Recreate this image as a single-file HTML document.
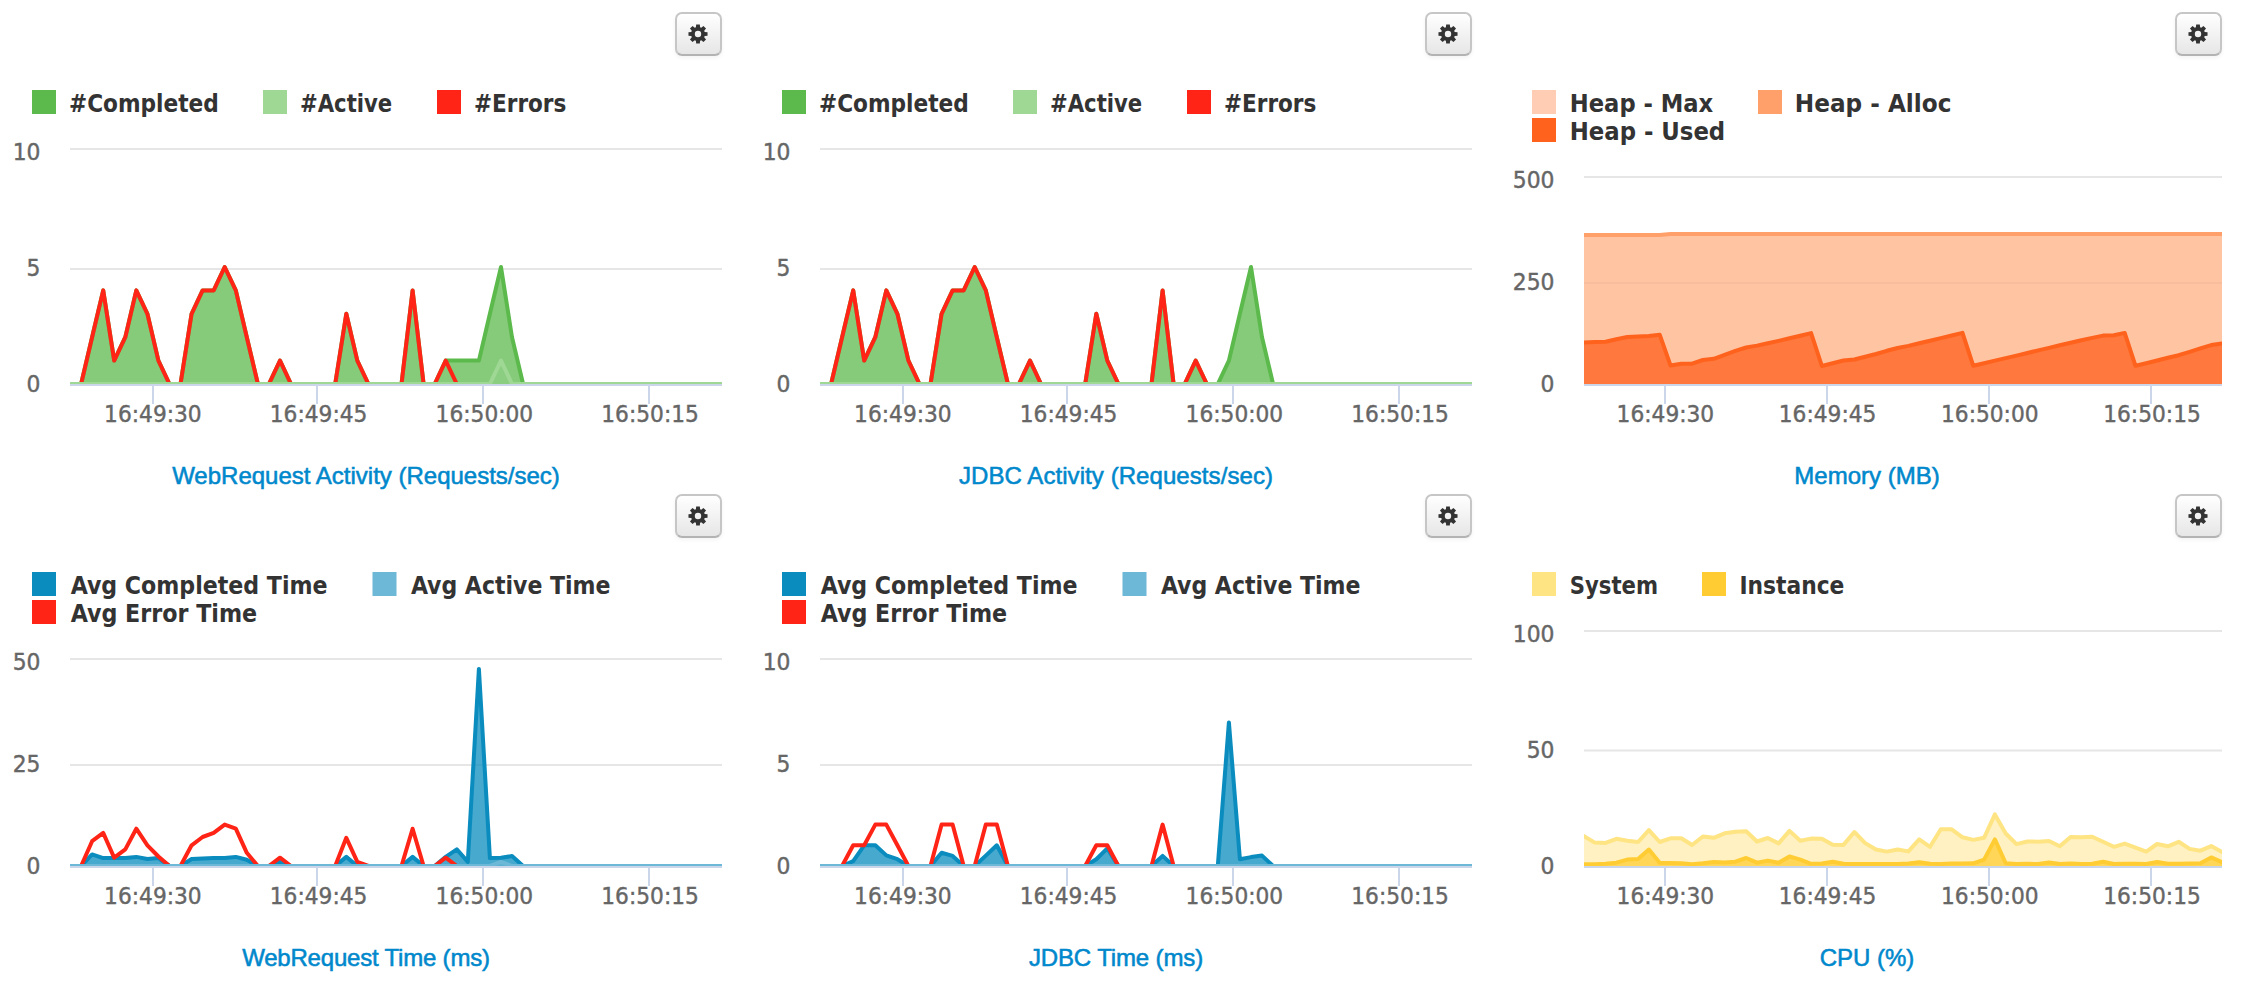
<!DOCTYPE html>
<html lang="en"><head><meta charset="utf-8"><title>Monitoring Dashboard</title>
<style>
html,body{margin:0;padding:0;background:#fff;}
body{width:2260px;height:982px;position:relative;overflow:hidden;font-family:"Liberation Sans",Arial,sans-serif;}
.panel{position:absolute;}
.chart{position:absolute;left:0;top:0;display:block;}
.btn{position:absolute;left:675px;top:12px;width:43px;height:40px;border:2px solid #c6c6c6;border-bottom-color:#b3b3b3;border-radius:7px;
 background:linear-gradient(to bottom,#ffffff,#e6e6e6);box-shadow:inset 0 2px 0 rgba(255,255,255,.2),0 2px 4px rgba(0,0,0,.05);box-sizing:content-box;display:block;}
.btn svg{position:absolute;left:10.8px;top:10.4px;}
.title{position:absolute;top:456px;width:600px;text-align:center;font-size:24px;line-height:40px;white-space:nowrap;}
.title a{color:#0088cc;text-decoration:none;-webkit-text-stroke:0.55px #0088cc;}
</style></head>
<body>
<div class="panel" style="left:0px;top:0px;width:750px;height:482px">
<a class="btn" title="Settings"><svg width="20" height="20" viewBox="0 0 20 20"><path fill="#333" fill-rule="evenodd" d="M7.89 3.33 L8.18 0.47 L11.82 0.47 L12.11 3.33 L13.23 3.79 L15.45 1.98 L18.02 4.55 L16.21 6.77 L16.67 7.89 L19.53 8.18 L19.53 11.82 L16.67 12.11 L16.21 13.23 L18.02 15.45 L15.45 18.02 L13.23 16.21 L12.11 16.67 L11.82 19.53 L8.18 19.53 L7.89 16.67 L6.77 16.21 L4.55 18.02 L1.98 15.45 L3.79 13.23 L3.33 12.11 L0.47 11.82 L0.47 8.18 L3.33 7.89 L3.79 6.77 L1.98 4.55 L4.55 1.98 L6.77 3.79 Z M6.80 10.00 a3.20 3.20 0 1 0 6.40 0 a3.20 3.20 0 1 0 -6.40 0 Z"/></svg></a>
<svg class="chart" width="750" height="482" viewBox="0 0 750 482">
<defs><clipPath id="clipa"><rect x="70" y="0" width="652" height="384"/></clipPath></defs>
<g class="grid" stroke="#e6e6e6" stroke-width="2">
<path d="M70 149 H722"/>
<path d="M70 269 H722"/>
</g>
<g class="xaxis" stroke="#ccd6eb" stroke-width="2">
<path d="M70 385 H722"/>
<path d="M153 386 V404"/>
<path d="M317 386 V404"/>
<path d="M483 386 V404"/>
<path d="M649 386 V404"/>
</g>
<g class="series" clip-path="url(#clipa)" fill="none" stroke-width="4" stroke-linejoin="round" stroke-linecap="round">
<path d="M70 384 L81.1 384 L92.1 337.2 L103.2 290.4 L114.2 360.6 L125.3 337.2 L136.3 290.4 L147.4 313.8 L158.4 360.6 L169.5 384 L180.5 384 L191.6 313.8 L202.6 290.4 L213.7 290.4 L224.7 267 L235.8 290.4 L246.8 337.2 L257.9 384 L268.9 384 L280 360.6 L291 384 L302.1 384 L313.1 384 L324.2 384 L335.2 384 L346.3 313.8 L357.3 360.6 L368.4 384 L379.4 384 L390.5 384 L401.5 384 L412.6 290.4 L423.6 384 L434.7 384 L445.7 360.6 L456.8 360.6 L467.8 360.6 L478.9 360.6 L489.9 313.8 L501 267 L512 337.2 L523.1 384 L534.1 384 L545.2 384 L556.2 384 L567.3 384 L578.3 384 L589.4 384 L600.4 384 L611.5 384 L622.5 384 L633.6 384 L644.6 384 L655.7 384 L666.7 384 L677.8 384 L688.8 384 L699.9 384 L710.9 384 L722 384 L722 384 L70 384 Z" fill="#5cb94c" fill-opacity="0.75" stroke="none"/>
<path d="M70 384 L81.1 384 L92.1 337.2 L103.2 290.4 L114.2 360.6 L125.3 337.2 L136.3 290.4 L147.4 313.8 L158.4 360.6 L169.5 384 L180.5 384 L191.6 313.8 L202.6 290.4 L213.7 290.4 L224.7 267 L235.8 290.4 L246.8 337.2 L257.9 384 L268.9 384 L280 360.6 L291 384 L302.1 384 L313.1 384 L324.2 384 L335.2 384 L346.3 313.8 L357.3 360.6 L368.4 384 L379.4 384 L390.5 384 L401.5 384 L412.6 290.4 L423.6 384 L434.7 384 L445.7 360.6 L456.8 360.6 L467.8 360.6 L478.9 360.6 L489.9 313.8 L501 267 L512 337.2 L523.1 384 L534.1 384 L545.2 384 L556.2 384 L567.3 384 L578.3 384 L589.4 384 L600.4 384 L611.5 384 L622.5 384 L633.6 384 L644.6 384 L655.7 384 L666.7 384 L677.8 384 L688.8 384 L699.9 384 L710.9 384 L722 384" stroke="#5cb94c"/>
<path d="M70 384 L81.1 384 L92.1 337.2 L103.2 290.4 L114.2 360.6 L125.3 337.2 L136.3 290.4 L147.4 313.8 L158.4 360.6 L169.5 384 L180.5 384 L191.6 313.8 L202.6 290.4 L213.7 290.4 L224.7 267 L235.8 290.4 L246.8 337.2 L257.9 384 L268.9 384 L280 360.6 L291 384 L302.1 384 L313.1 384 L324.2 384 L335.2 384 L346.3 313.8 L357.3 360.6 L368.4 384 L379.4 384 L390.5 384 L401.5 384 L412.6 290.4 L423.6 384 L434.7 384 L445.7 360.6 L456.8 384" stroke="#ff2416"/>
<path d="M70 384 L81.1 384 L92.1 384 L103.2 384 L114.2 384 L125.3 384 L136.3 384 L147.4 384 L158.4 384 L169.5 384 L180.5 384 L191.6 384 L202.6 384 L213.7 384 L224.7 384 L235.8 384 L246.8 384 L257.9 384 L268.9 384 L280 384 L291 384 L302.1 384 L313.1 384 L324.2 384 L335.2 384 L346.3 384 L357.3 384 L368.4 384 L379.4 384 L390.5 384 L401.5 384 L412.6 384 L423.6 384 L434.7 384 L445.7 384 L456.8 384 L467.8 384 L478.9 384 L489.9 384 L501 360.6 L512 384 L523.1 384 L534.1 384 L545.2 384 L556.2 384 L567.3 384 L578.3 384 L589.4 384 L600.4 384 L611.5 384 L622.5 384 L633.6 384 L644.6 384 L655.7 384 L666.7 384 L677.8 384 L688.8 384 L699.9 384 L710.9 384 L722 384 L722 384 L70 384 Z" fill="#9fd795" fill-opacity="0.3" stroke="none"/>
<path d="M70 384 L81.1 384 L92.1 384 L103.2 384 L114.2 384 L125.3 384 L136.3 384 L147.4 384 L158.4 384 L169.5 384 L180.5 384 L191.6 384 L202.6 384 L213.7 384 L224.7 384 L235.8 384 L246.8 384 L257.9 384 L268.9 384 L280 384 L291 384 L302.1 384 L313.1 384 L324.2 384 L335.2 384 L346.3 384 L357.3 384 L368.4 384 L379.4 384 L390.5 384 L401.5 384 L412.6 384 L423.6 384 L434.7 384 L445.7 384 L456.8 384 L467.8 384 L478.9 384 L489.9 384 L501 360.6 L512 384 L523.1 384 L534.1 384 L545.2 384 L556.2 384 L567.3 384 L578.3 384 L589.4 384 L600.4 384 L611.5 384 L622.5 384 L633.6 384 L644.6 384 L655.7 384 L666.7 384 L677.8 384 L688.8 384 L699.9 384 L710.9 384 L722 384" stroke="#9fd795"/>
</g>
<g class="xlabels" font-family='"DejaVu Sans Condensed", "DejaVu Sans", "Liberation Sans", sans-serif' font-size="23.7" fill="#666666" stroke="#666666" stroke-width="0.4" text-anchor="middle">
<text x="152.9" y="422" textLength="97.6" lengthAdjust="spacingAndGlyphs">16:49:30</text>
<text x="318.6" y="422" textLength="97.6" lengthAdjust="spacingAndGlyphs">16:49:45</text>
<text x="484.4" y="422" textLength="97.6" lengthAdjust="spacingAndGlyphs">16:50:00</text>
<text x="650.1" y="422" textLength="97.6" lengthAdjust="spacingAndGlyphs">16:50:15</text>
</g>
<g class="ylabels" font-family='"DejaVu Sans Condensed", "DejaVu Sans", "Liberation Sans", sans-serif' font-size="23.7" fill="#666666" stroke="#666666" stroke-width="0.4" text-anchor="end">
<text x="40.5" y="160" textLength="27.8" lengthAdjust="spacingAndGlyphs">10</text>
<text x="40.5" y="276" textLength="13.9" lengthAdjust="spacingAndGlyphs">5</text>
<text x="40.5" y="392" textLength="13.9" lengthAdjust="spacingAndGlyphs">0</text>
</g>
<g class="legend" font-family='"DejaVu Sans Condensed", "DejaVu Sans", "Liberation Sans", sans-serif' font-size="24" font-weight="bold" fill="#333333">
<rect x="32" y="90" width="24" height="24" fill="#5cb94c"/>
<text x="69" y="111.6" textLength="149.8" lengthAdjust="spacingAndGlyphs">#Completed</text>
<rect x="263" y="90" width="24" height="24" fill="#9fd795"/>
<text x="300" y="111.6" textLength="92.2" lengthAdjust="spacingAndGlyphs">#Active</text>
<rect x="437" y="90" width="24" height="24" fill="#ff2416"/>
<text x="474" y="111.6" textLength="92.3" lengthAdjust="spacingAndGlyphs">#Errors</text>
</g>
</svg>
<div class="title" style="left:66px"><a>WebRequest Activity (Requests/sec)</a></div>
</div>

<div class="panel" style="left:750px;top:0px;width:750px;height:482px">
<a class="btn" title="Settings"><svg width="20" height="20" viewBox="0 0 20 20"><path fill="#333" fill-rule="evenodd" d="M7.89 3.33 L8.18 0.47 L11.82 0.47 L12.11 3.33 L13.23 3.79 L15.45 1.98 L18.02 4.55 L16.21 6.77 L16.67 7.89 L19.53 8.18 L19.53 11.82 L16.67 12.11 L16.21 13.23 L18.02 15.45 L15.45 18.02 L13.23 16.21 L12.11 16.67 L11.82 19.53 L8.18 19.53 L7.89 16.67 L6.77 16.21 L4.55 18.02 L1.98 15.45 L3.79 13.23 L3.33 12.11 L0.47 11.82 L0.47 8.18 L3.33 7.89 L3.79 6.77 L1.98 4.55 L4.55 1.98 L6.77 3.79 Z M6.80 10.00 a3.20 3.20 0 1 0 6.40 0 a3.20 3.20 0 1 0 -6.40 0 Z"/></svg></a>
<svg class="chart" width="750" height="482" viewBox="0 0 750 482">
<defs><clipPath id="clipb"><rect x="70" y="0" width="652" height="384"/></clipPath></defs>
<g class="grid" stroke="#e6e6e6" stroke-width="2">
<path d="M70 149 H722"/>
<path d="M70 269 H722"/>
</g>
<g class="xaxis" stroke="#ccd6eb" stroke-width="2">
<path d="M70 385 H722"/>
<path d="M153 386 V404"/>
<path d="M317 386 V404"/>
<path d="M483 386 V404"/>
<path d="M649 386 V404"/>
</g>
<g class="series" clip-path="url(#clipb)" fill="none" stroke-width="4" stroke-linejoin="round" stroke-linecap="round">
<path d="M70 384 L81.1 384 L92.1 337.2 L103.2 290.4 L114.2 360.6 L125.3 337.2 L136.3 290.4 L147.4 313.8 L158.4 360.6 L169.5 384 L180.5 384 L191.6 313.8 L202.6 290.4 L213.7 290.4 L224.7 267 L235.8 290.4 L246.8 337.2 L257.9 384 L268.9 384 L280 360.6 L291 384 L302.1 384 L313.1 384 L324.2 384 L335.2 384 L346.3 313.8 L357.3 360.6 L368.4 384 L379.4 384 L390.5 384 L401.5 384 L412.6 290.4 L423.6 384 L434.7 384 L445.7 360.6 L456.8 384 L467.8 384 L478.9 360.6 L489.9 313.8 L501 267 L512 337.2 L523.1 384 L534.1 384 L545.2 384 L556.2 384 L567.3 384 L578.3 384 L589.4 384 L600.4 384 L611.5 384 L622.5 384 L633.6 384 L644.6 384 L655.7 384 L666.7 384 L677.8 384 L688.8 384 L699.9 384 L710.9 384 L722 384 L722 384 L70 384 Z" fill="#5cb94c" fill-opacity="0.75" stroke="none"/>
<path d="M70 384 L81.1 384 L92.1 337.2 L103.2 290.4 L114.2 360.6 L125.3 337.2 L136.3 290.4 L147.4 313.8 L158.4 360.6 L169.5 384 L180.5 384 L191.6 313.8 L202.6 290.4 L213.7 290.4 L224.7 267 L235.8 290.4 L246.8 337.2 L257.9 384 L268.9 384 L280 360.6 L291 384 L302.1 384 L313.1 384 L324.2 384 L335.2 384 L346.3 313.8 L357.3 360.6 L368.4 384 L379.4 384 L390.5 384 L401.5 384 L412.6 290.4 L423.6 384 L434.7 384 L445.7 360.6 L456.8 384 L467.8 384 L478.9 360.6 L489.9 313.8 L501 267 L512 337.2 L523.1 384 L534.1 384 L545.2 384 L556.2 384 L567.3 384 L578.3 384 L589.4 384 L600.4 384 L611.5 384 L622.5 384 L633.6 384 L644.6 384 L655.7 384 L666.7 384 L677.8 384 L688.8 384 L699.9 384 L710.9 384 L722 384" stroke="#5cb94c"/>
<path d="M70 384 L81.1 384 L92.1 337.2 L103.2 290.4 L114.2 360.6 L125.3 337.2 L136.3 290.4 L147.4 313.8 L158.4 360.6 L169.5 384 L180.5 384 L191.6 313.8 L202.6 290.4 L213.7 290.4 L224.7 267 L235.8 290.4 L246.8 337.2 L257.9 384 L268.9 384 L280 360.6 L291 384 L302.1 384 L313.1 384 L324.2 384 L335.2 384 L346.3 313.8 L357.3 360.6 L368.4 384 L379.4 384 L390.5 384 L401.5 384 L412.6 290.4 L423.6 384 L434.7 384 L445.7 360.6 L456.8 384" stroke="#ff2416"/>

<path d="M70 384 L81.1 384 L92.1 384 L103.2 384 L114.2 384 L125.3 384 L136.3 384 L147.4 384 L158.4 384 L169.5 384 L180.5 384 L191.6 384 L202.6 384 L213.7 384 L224.7 384 L235.8 384 L246.8 384 L257.9 384 L268.9 384 L280 384 L291 384 L302.1 384 L313.1 384 L324.2 384 L335.2 384 L346.3 384 L357.3 384 L368.4 384 L379.4 384 L390.5 384 L401.5 384 L412.6 384 L423.6 384 L434.7 384 L445.7 384 L456.8 384 L467.8 384 L478.9 384 L489.9 384 L501 384 L512 384 L523.1 384 L534.1 384 L545.2 384 L556.2 384 L567.3 384 L578.3 384 L589.4 384 L600.4 384 L611.5 384 L622.5 384 L633.6 384 L644.6 384 L655.7 384 L666.7 384 L677.8 384 L688.8 384 L699.9 384 L710.9 384 L722 384" stroke="#9fd795"/>
</g>
<g class="xlabels" font-family='"DejaVu Sans Condensed", "DejaVu Sans", "Liberation Sans", sans-serif' font-size="23.7" fill="#666666" stroke="#666666" stroke-width="0.4" text-anchor="middle">
<text x="152.9" y="422" textLength="97.6" lengthAdjust="spacingAndGlyphs">16:49:30</text>
<text x="318.6" y="422" textLength="97.6" lengthAdjust="spacingAndGlyphs">16:49:45</text>
<text x="484.4" y="422" textLength="97.6" lengthAdjust="spacingAndGlyphs">16:50:00</text>
<text x="650.1" y="422" textLength="97.6" lengthAdjust="spacingAndGlyphs">16:50:15</text>
</g>
<g class="ylabels" font-family='"DejaVu Sans Condensed", "DejaVu Sans", "Liberation Sans", sans-serif' font-size="23.7" fill="#666666" stroke="#666666" stroke-width="0.4" text-anchor="end">
<text x="40.5" y="160" textLength="27.8" lengthAdjust="spacingAndGlyphs">10</text>
<text x="40.5" y="276" textLength="13.9" lengthAdjust="spacingAndGlyphs">5</text>
<text x="40.5" y="392" textLength="13.9" lengthAdjust="spacingAndGlyphs">0</text>
</g>
<g class="legend" font-family='"DejaVu Sans Condensed", "DejaVu Sans", "Liberation Sans", sans-serif' font-size="24" font-weight="bold" fill="#333333">
<rect x="32" y="90" width="24" height="24" fill="#5cb94c"/>
<text x="69" y="111.6" textLength="149.8" lengthAdjust="spacingAndGlyphs">#Completed</text>
<rect x="263" y="90" width="24" height="24" fill="#9fd795"/>
<text x="300" y="111.6" textLength="92.2" lengthAdjust="spacingAndGlyphs">#Active</text>
<rect x="437" y="90" width="24" height="24" fill="#ff2416"/>
<text x="474" y="111.6" textLength="92.3" lengthAdjust="spacingAndGlyphs">#Errors</text>
</g>
</svg>
<div class="title" style="left:66px"><a style="letter-spacing:0.07px">JDBC Activity (Requests/sec)</a></div>
</div>

<div class="panel" style="left:1500px;top:0px;width:760px;height:482px">
<a class="btn" title="Settings"><svg width="20" height="20" viewBox="0 0 20 20"><path fill="#333" fill-rule="evenodd" d="M7.89 3.33 L8.18 0.47 L11.82 0.47 L12.11 3.33 L13.23 3.79 L15.45 1.98 L18.02 4.55 L16.21 6.77 L16.67 7.89 L19.53 8.18 L19.53 11.82 L16.67 12.11 L16.21 13.23 L18.02 15.45 L15.45 18.02 L13.23 16.21 L12.11 16.67 L11.82 19.53 L8.18 19.53 L7.89 16.67 L6.77 16.21 L4.55 18.02 L1.98 15.45 L3.79 13.23 L3.33 12.11 L0.47 11.82 L0.47 8.18 L3.33 7.89 L3.79 6.77 L1.98 4.55 L4.55 1.98 L6.77 3.79 Z M6.80 10.00 a3.20 3.20 0 1 0 6.40 0 a3.20 3.20 0 1 0 -6.40 0 Z"/></svg></a>
<svg class="chart" width="760" height="482" viewBox="0 0 760 482">
<defs><clipPath id="clipc"><rect x="84" y="0" width="638" height="384"/></clipPath></defs>
<g class="grid" stroke="#e6e6e6" stroke-width="2">
<path d="M84 177 H722"/>
<path d="M84 283 H722"/>
</g>
<g class="xaxis" stroke="#ccd6eb" stroke-width="2">
<path d="M84 385 H722"/>
<path d="M165 386 V404"/>
<path d="M327 386 V404"/>
<path d="M489 386 V404"/>
<path d="M651 386 V404"/>
</g>
<g class="series" clip-path="url(#clipc)" fill="none" stroke-width="4" stroke-linejoin="round" stroke-linecap="round">
<path d="M84 235 L94.8 235 L105.6 235 L116.4 235 L127.3 235 L138.1 235 L148.9 235 L159.7 235 L170.5 234 L181.3 234 L192.1 234 L202.9 234 L213.8 234 L224.6 234 L235.4 234 L246.2 234 L257 234 L267.8 234 L278.6 234 L289.5 234 L300.3 234 L311.1 234 L321.9 234 L332.7 234 L343.5 234 L354.3 234 L365.2 234 L376 234 L386.8 234 L397.6 234 L408.4 234 L419.2 234 L430 234 L440.8 234 L451.7 234 L462.5 234 L473.3 234 L484.1 234 L494.9 234 L505.7 234 L516.5 234 L527.4 234 L538.2 234 L549 234 L559.8 234 L570.6 234 L581.4 234 L592.2 234 L603.1 234 L613.9 234 L624.7 234 L635.5 234 L646.3 234 L657.1 234 L667.9 234 L678.7 234 L689.6 234 L700.4 234 L711.2 234 L722 234 L722 384 L84 384 Z" fill="#ffc4a2" stroke="none"/>
<path d="M84 283 H722" stroke="#f8bd9c" stroke-width="2" stroke-linecap="butt"/>
<path d="M84 235 L94.8 235 L105.6 235 L116.4 235 L127.3 235 L138.1 235 L148.9 235 L159.7 235 L170.5 234 L181.3 234 L192.1 234 L202.9 234 L213.8 234 L224.6 234 L235.4 234 L246.2 234 L257 234 L267.8 234 L278.6 234 L289.5 234 L300.3 234 L311.1 234 L321.9 234 L332.7 234 L343.5 234 L354.3 234 L365.2 234 L376 234 L386.8 234 L397.6 234 L408.4 234 L419.2 234 L430 234 L440.8 234 L451.7 234 L462.5 234 L473.3 234 L484.1 234 L494.9 234 L505.7 234 L516.5 234 L527.4 234 L538.2 234 L549 234 L559.8 234 L570.6 234 L581.4 234 L592.2 234 L603.1 234 L613.9 234 L624.7 234 L635.5 234 L646.3 234 L657.1 234 L667.9 234 L678.7 234 L689.6 234 L700.4 234 L711.2 234 L722 234" stroke="#ffa06a"/>
<path d="M84 342.5 L94.8 342 L105.6 341.7 L116.4 339.3 L127.3 337 L138.1 336.6 L148.9 336 L159.7 334.7 L170.5 365.5 L181.3 363.7 L192.1 363.7 L202.9 360 L213.8 358.8 L224.6 354.8 L235.4 350.8 L246.2 347.5 L257 345.6 L267.8 343.3 L278.6 340.9 L289.5 338.3 L300.3 335.7 L311.1 333.1 L321.9 366 L332.7 363.2 L343.5 360.5 L354.3 359.5 L365.2 356.8 L376 354 L386.8 350.8 L397.6 348 L408.4 345.9 L419.2 343.3 L430 340.7 L440.8 338.1 L451.7 335.5 L462.5 332.9 L473.3 365.8 L484.1 363.2 L494.9 360.6 L505.7 358.1 L516.5 355.6 L527.4 353 L538.2 350.4 L549 347.9 L559.8 345.3 L570.6 342.8 L581.4 340.3 L592.2 337.9 L603.1 335.6 L613.9 335.2 L624.7 332.9 L635.5 365.8 L646.3 363.2 L657.1 360.5 L667.9 357.8 L678.7 355.2 L689.6 351.8 L700.4 348.4 L711.2 345.1 L722 343.5 L722 384 L84 384 Z" fill="#ff783d" stroke="none"/>
<path d="M84 342.5 L94.8 342 L105.6 341.7 L116.4 339.3 L127.3 337 L138.1 336.6 L148.9 336 L159.7 334.7 L170.5 365.5 L181.3 363.7 L192.1 363.7 L202.9 360 L213.8 358.8 L224.6 354.8 L235.4 350.8 L246.2 347.5 L257 345.6 L267.8 343.3 L278.6 340.9 L289.5 338.3 L300.3 335.7 L311.1 333.1 L321.9 366 L332.7 363.2 L343.5 360.5 L354.3 359.5 L365.2 356.8 L376 354 L386.8 350.8 L397.6 348 L408.4 345.9 L419.2 343.3 L430 340.7 L440.8 338.1 L451.7 335.5 L462.5 332.9 L473.3 365.8 L484.1 363.2 L494.9 360.6 L505.7 358.1 L516.5 355.6 L527.4 353 L538.2 350.4 L549 347.9 L559.8 345.3 L570.6 342.8 L581.4 340.3 L592.2 337.9 L603.1 335.6 L613.9 335.2 L624.7 332.9 L635.5 365.8 L646.3 363.2 L657.1 360.5 L667.9 357.8 L678.7 355.2 L689.6 351.8 L700.4 348.4 L711.2 345.1 L722 343.5" stroke="#ff621d"/>
</g>
<g class="xlabels" font-family='"DejaVu Sans Condensed", "DejaVu Sans", "Liberation Sans", sans-serif' font-size="23.7" fill="#666666" stroke="#666666" stroke-width="0.4" text-anchor="middle">
<text x="165.4" y="422" textLength="97.6" lengthAdjust="spacingAndGlyphs">16:49:30</text>
<text x="327.6" y="422" textLength="97.6" lengthAdjust="spacingAndGlyphs">16:49:45</text>
<text x="489.8" y="422" textLength="97.6" lengthAdjust="spacingAndGlyphs">16:50:00</text>
<text x="652" y="422" textLength="97.6" lengthAdjust="spacingAndGlyphs">16:50:15</text>
</g>
<g class="ylabels" font-family='"DejaVu Sans Condensed", "DejaVu Sans", "Liberation Sans", sans-serif' font-size="23.7" fill="#666666" stroke="#666666" stroke-width="0.4" text-anchor="end">
<text x="54.5" y="188" textLength="41.7" lengthAdjust="spacingAndGlyphs">500</text>
<text x="54.5" y="290" textLength="41.7" lengthAdjust="spacingAndGlyphs">250</text>
<text x="54.5" y="392" textLength="13.9" lengthAdjust="spacingAndGlyphs">0</text>
</g>
<g class="legend" font-family='"DejaVu Sans Condensed", "DejaVu Sans", "Liberation Sans", sans-serif' font-size="24" font-weight="bold" fill="#333333">
<rect x="32" y="90" width="24" height="24" fill="#ffcdb3"/>
<text x="69.8" y="111.6" textLength="143.4" lengthAdjust="spacingAndGlyphs">Heap - Max</text>
<rect x="258" y="90" width="24" height="24" fill="#ffa06a"/>
<text x="294.8" y="111.6" textLength="156.6" lengthAdjust="spacingAndGlyphs">Heap - Alloc</text>
<rect x="32" y="118" width="24" height="24" fill="#ff621d"/>
<text x="69.8" y="139.6" textLength="155.4" lengthAdjust="spacingAndGlyphs">Heap - Used</text>
</g>
</svg>
<div class="title" style="left:67px"><a>Memory (MB)</a></div>
</div>

<div class="panel" style="left:0px;top:482px;width:750px;height:500px">
<a class="btn" title="Settings"><svg width="20" height="20" viewBox="0 0 20 20"><path fill="#333" fill-rule="evenodd" d="M7.89 3.33 L8.18 0.47 L11.82 0.47 L12.11 3.33 L13.23 3.79 L15.45 1.98 L18.02 4.55 L16.21 6.77 L16.67 7.89 L19.53 8.18 L19.53 11.82 L16.67 12.11 L16.21 13.23 L18.02 15.45 L15.45 18.02 L13.23 16.21 L12.11 16.67 L11.82 19.53 L8.18 19.53 L7.89 16.67 L6.77 16.21 L4.55 18.02 L1.98 15.45 L3.79 13.23 L3.33 12.11 L0.47 11.82 L0.47 8.18 L3.33 7.89 L3.79 6.77 L1.98 4.55 L4.55 1.98 L6.77 3.79 Z M6.80 10.00 a3.20 3.20 0 1 0 6.40 0 a3.20 3.20 0 1 0 -6.40 0 Z"/></svg></a>
<svg class="chart" width="750" height="500" viewBox="0 0 750 500">
<defs><clipPath id="clipd"><rect x="70" y="0" width="652" height="384"/></clipPath></defs>
<g class="grid" stroke="#e6e6e6" stroke-width="2">
<path d="M70 177 H722"/>
<path d="M70 283 H722"/>
</g>
<g class="xaxis" stroke="#ccd6eb" stroke-width="2">
<path d="M70 385 H722"/>
<path d="M153 386 V404"/>
<path d="M317 386 V404"/>
<path d="M483 386 V404"/>
<path d="M649 386 V404"/>
</g>
<g class="series" clip-path="url(#clipd)" fill="none" stroke-width="4" stroke-linejoin="round" stroke-linecap="round">
<path d="M70 384 L81.1 384 L92.1 372.4 L103.2 376.1 L114.2 376.1 L125.3 376.1 L136.3 374.9 L147.4 377 L158.4 376.1 L169.5 384 L180.5 384 L191.6 377 L202.6 376.5 L213.7 376.1 L224.7 376.1 L235.8 374.9 L246.8 377.8 L257.9 384 L268.9 384 L280 379.9 L291 384 L302.1 384 L313.1 384 L324.2 384 L335.2 384 L346.3 374.9 L357.3 384 L368.4 384 L379.4 384 L390.5 384 L401.5 384 L412.6 374.9 L423.6 384 L434.7 384 L445.7 374.9 L456.8 367.4 L467.8 379.9 L478.9 186.9 L489.9 376.1 L501 375.7 L512 374.1 L523.1 384 L534.1 384 L545.2 384 L556.2 384 L567.3 384 L578.3 384 L589.4 384 L600.4 384 L611.5 384 L622.5 384 L633.6 384 L644.6 384 L655.7 384 L666.7 384 L677.8 384 L688.8 384 L699.9 384 L710.9 384 L722 384 L722 384 L70 384 Z" fill="#0a8cbe" fill-opacity="0.75" stroke="none"/>
<path d="M70 384 L81.1 384 L92.1 372.4 L103.2 376.1 L114.2 376.1 L125.3 376.1 L136.3 374.9 L147.4 377 L158.4 376.1 L169.5 384 L180.5 384 L191.6 377 L202.6 376.5 L213.7 376.1 L224.7 376.1 L235.8 374.9 L246.8 377.8 L257.9 384 L268.9 384 L280 379.9 L291 384 L302.1 384 L313.1 384 L324.2 384 L335.2 384 L346.3 374.9 L357.3 384 L368.4 384 L379.4 384 L390.5 384 L401.5 384 L412.6 374.9 L423.6 384 L434.7 384 L445.7 374.9 L456.8 367.4 L467.8 379.9 L478.9 186.9 L489.9 376.1 L501 375.7 L512 374.1 L523.1 384 L534.1 384 L545.2 384 L556.2 384 L567.3 384 L578.3 384 L589.4 384 L600.4 384 L611.5 384 L622.5 384 L633.6 384 L644.6 384 L655.7 384 L666.7 384 L677.8 384 L688.8 384 L699.9 384 L710.9 384 L722 384" stroke="#0a8cbe"/>
<path d="M70 384 L81.1 384 L92.1 359.2 L103.2 350.9 L114.2 375.7 L125.3 367.4 L136.3 346.7 L147.4 363.3 L158.4 374.5 L169.5 384 L180.5 384 L191.6 363.3 L202.6 355 L213.7 350.9 L224.7 342.6 L235.8 346.7 L246.8 370.8 L257.9 384 L268.9 384 L280 375.7 L291 384 L302.1 384 L313.1 384 L324.2 384 L335.2 384 L346.3 355.8 L357.3 379.9 L368.4 384 L379.4 384 L390.5 384 L401.5 384 L412.6 346.7 L423.6 384 L434.7 384 L445.7 375.7 L456.8 384" stroke="#ff2416"/>
<path d="M70 384 L81.1 384 L92.1 384 L103.2 384 L114.2 384 L125.3 384 L136.3 384 L147.4 384 L158.4 384 L169.5 384 L180.5 384 L191.6 384 L202.6 384 L213.7 384 L224.7 384 L235.8 384 L246.8 384 L257.9 384 L268.9 384 L280 384 L291 384 L302.1 384 L313.1 384 L324.2 384 L335.2 384 L346.3 384 L357.3 384 L368.4 384 L379.4 384 L390.5 384 L401.5 384 L412.6 384 L423.6 384 L434.7 384 L445.7 384 L456.8 384 L467.8 384 L478.9 384 L489.9 384 L501 379.9 L512 384 L523.1 384 L534.1 384 L545.2 384 L556.2 384 L567.3 384 L578.3 384 L589.4 384 L600.4 384 L611.5 384 L622.5 384 L633.6 384 L644.6 384 L655.7 384 L666.7 384 L677.8 384 L688.8 384 L699.9 384 L710.9 384 L722 384 L722 384 L70 384 Z" fill="#6cb8d6" fill-opacity="0.6" stroke="none"/>
<path d="M70 384 L81.1 384 L92.1 384 L103.2 384 L114.2 384 L125.3 384 L136.3 384 L147.4 384 L158.4 384 L169.5 384 L180.5 384 L191.6 384 L202.6 384 L213.7 384 L224.7 384 L235.8 384 L246.8 384 L257.9 384 L268.9 384 L280 384 L291 384 L302.1 384 L313.1 384 L324.2 384 L335.2 384 L346.3 384 L357.3 384 L368.4 384 L379.4 384 L390.5 384 L401.5 384 L412.6 384 L423.6 384 L434.7 384 L445.7 384 L456.8 384 L467.8 384 L478.9 384 L489.9 384 L501 379.9 L512 384 L523.1 384 L534.1 384 L545.2 384 L556.2 384 L567.3 384 L578.3 384 L589.4 384 L600.4 384 L611.5 384 L622.5 384 L633.6 384 L644.6 384 L655.7 384 L666.7 384 L677.8 384 L688.8 384 L699.9 384 L710.9 384 L722 384" stroke="#6cb8d6"/>
</g>
<g class="xlabels" font-family='"DejaVu Sans Condensed", "DejaVu Sans", "Liberation Sans", sans-serif' font-size="23.7" fill="#666666" stroke="#666666" stroke-width="0.4" text-anchor="middle">
<text x="152.9" y="422" textLength="97.6" lengthAdjust="spacingAndGlyphs">16:49:30</text>
<text x="318.6" y="422" textLength="97.6" lengthAdjust="spacingAndGlyphs">16:49:45</text>
<text x="484.4" y="422" textLength="97.6" lengthAdjust="spacingAndGlyphs">16:50:00</text>
<text x="650.1" y="422" textLength="97.6" lengthAdjust="spacingAndGlyphs">16:50:15</text>
</g>
<g class="ylabels" font-family='"DejaVu Sans Condensed", "DejaVu Sans", "Liberation Sans", sans-serif' font-size="23.7" fill="#666666" stroke="#666666" stroke-width="0.4" text-anchor="end">
<text x="40.5" y="188" textLength="27.8" lengthAdjust="spacingAndGlyphs">50</text>
<text x="40.5" y="290" textLength="27.8" lengthAdjust="spacingAndGlyphs">25</text>
<text x="40.5" y="392" textLength="13.9" lengthAdjust="spacingAndGlyphs">0</text>
</g>
<g class="legend" font-family='"DejaVu Sans Condensed", "DejaVu Sans", "Liberation Sans", sans-serif' font-size="24" font-weight="bold" fill="#333333">
<rect x="32" y="90" width="24" height="24" fill="#0a8cbe"/>
<text x="70.7" y="111.6" textLength="256.9" lengthAdjust="spacingAndGlyphs">Avg Completed Time</text>
<rect x="372.5" y="90" width="24" height="24" fill="#6cb8d6"/>
<text x="410.9" y="111.6" textLength="199.6" lengthAdjust="spacingAndGlyphs">Avg Active Time</text>
<rect x="32" y="118" width="24" height="24" fill="#ff2416"/>
<text x="70.7" y="139.6" textLength="186.5" lengthAdjust="spacingAndGlyphs">Avg Error Time</text>
</g>
</svg>
<div class="title" style="left:66px"><a style="letter-spacing:-0.2px">WebRequest Time (ms)</a></div>
</div>

<div class="panel" style="left:750px;top:482px;width:750px;height:500px">
<a class="btn" title="Settings"><svg width="20" height="20" viewBox="0 0 20 20"><path fill="#333" fill-rule="evenodd" d="M7.89 3.33 L8.18 0.47 L11.82 0.47 L12.11 3.33 L13.23 3.79 L15.45 1.98 L18.02 4.55 L16.21 6.77 L16.67 7.89 L19.53 8.18 L19.53 11.82 L16.67 12.11 L16.21 13.23 L18.02 15.45 L15.45 18.02 L13.23 16.21 L12.11 16.67 L11.82 19.53 L8.18 19.53 L7.89 16.67 L6.77 16.21 L4.55 18.02 L1.98 15.45 L3.79 13.23 L3.33 12.11 L0.47 11.82 L0.47 8.18 L3.33 7.89 L3.79 6.77 L1.98 4.55 L4.55 1.98 L6.77 3.79 Z M6.80 10.00 a3.20 3.20 0 1 0 6.40 0 a3.20 3.20 0 1 0 -6.40 0 Z"/></svg></a>
<svg class="chart" width="750" height="500" viewBox="0 0 750 500">
<defs><clipPath id="clipe"><rect x="70" y="0" width="652" height="384"/></clipPath></defs>
<g class="grid" stroke="#e6e6e6" stroke-width="2">
<path d="M70 177 H722"/>
<path d="M70 283 H722"/>
</g>
<g class="xaxis" stroke="#ccd6eb" stroke-width="2">
<path d="M70 385 H722"/>
<path d="M153 386 V404"/>
<path d="M317 386 V404"/>
<path d="M483 386 V404"/>
<path d="M649 386 V404"/>
</g>
<g class="series" clip-path="url(#clipe)" fill="none" stroke-width="4" stroke-linejoin="round" stroke-linecap="round">
<path d="M70 384 L81.1 384 L92.1 384 L103.2 379.2 L114.2 363.3 L125.3 363.3 L136.3 373.4 L147.4 377.2 L158.4 384 L169.5 384 L180.5 384 L191.6 370.8 L202.6 373.9 L213.7 384 L224.7 384 L235.8 373.6 L246.8 363.3 L257.9 384 L268.9 384 L280 384 L291 384 L302.1 384 L313.1 384 L324.2 384 L335.2 384 L346.3 377.2 L357.3 366.4 L368.4 384 L379.4 384 L390.5 384 L401.5 384 L412.6 373.9 L423.6 384 L434.7 384 L445.7 384 L456.8 384 L467.8 384 L478.9 240.5 L489.9 377.2 L501 375.1 L512 373.6 L523.1 384 L534.1 384 L545.2 384 L556.2 384 L567.3 384 L578.3 384 L589.4 384 L600.4 384 L611.5 384 L622.5 384 L633.6 384 L644.6 384 L655.7 384 L666.7 384 L677.8 384 L688.8 384 L699.9 384 L710.9 384 L722 384 L722 384 L70 384 Z" fill="#0a8cbe" fill-opacity="0.75" stroke="none"/>
<path d="M70 384 L81.1 384 L92.1 384 L103.2 379.2 L114.2 363.3 L125.3 363.3 L136.3 373.4 L147.4 377.2 L158.4 384 L169.5 384 L180.5 384 L191.6 370.8 L202.6 373.9 L213.7 384 L224.7 384 L235.8 373.6 L246.8 363.3 L257.9 384 L268.9 384 L280 384 L291 384 L302.1 384 L313.1 384 L324.2 384 L335.2 384 L346.3 377.2 L357.3 366.4 L368.4 384 L379.4 384 L390.5 384 L401.5 384 L412.6 373.9 L423.6 384 L434.7 384 L445.7 384 L456.8 384 L467.8 384 L478.9 240.5 L489.9 377.2 L501 375.1 L512 373.6 L523.1 384 L534.1 384 L545.2 384 L556.2 384 L567.3 384 L578.3 384 L589.4 384 L600.4 384 L611.5 384 L622.5 384 L633.6 384 L644.6 384 L655.7 384 L666.7 384 L677.8 384 L688.8 384 L699.9 384 L710.9 384 L722 384" stroke="#0a8cbe"/>
<path d="M70 384 L81.1 384 L92.1 384 L103.2 363.3 L114.2 363.3 L125.3 342.6 L136.3 342.6 L147.4 363.3 L158.4 384 L169.5 384 L180.5 384 L191.6 342.6 L202.6 342.6 L213.7 384 L224.7 384 L235.8 342.6 L246.8 342.6 L257.9 384 L268.9 384 L280 384 L291 384 L302.1 384 L313.1 384 L324.2 384 L335.2 384 L346.3 363.3 L357.3 363.3 L368.4 384 L379.4 384 L390.5 384 L401.5 384 L412.6 342.6 L423.6 384 L434.7 384 L445.7 384 L456.8 384" stroke="#ff2416"/>

<path d="M70 384 L81.1 384 L92.1 384 L103.2 384 L114.2 384 L125.3 384 L136.3 384 L147.4 384 L158.4 384 L169.5 384 L180.5 384 L191.6 384 L202.6 384 L213.7 384 L224.7 384 L235.8 384 L246.8 384 L257.9 384 L268.9 384 L280 384 L291 384 L302.1 384 L313.1 384 L324.2 384 L335.2 384 L346.3 384 L357.3 384 L368.4 384 L379.4 384 L390.5 384 L401.5 384 L412.6 384 L423.6 384 L434.7 384 L445.7 384 L456.8 384 L467.8 384 L478.9 384 L489.9 384 L501 384 L512 384 L523.1 384 L534.1 384 L545.2 384 L556.2 384 L567.3 384 L578.3 384 L589.4 384 L600.4 384 L611.5 384 L622.5 384 L633.6 384 L644.6 384 L655.7 384 L666.7 384 L677.8 384 L688.8 384 L699.9 384 L710.9 384 L722 384" stroke="#6cb8d6"/>
</g>
<g class="xlabels" font-family='"DejaVu Sans Condensed", "DejaVu Sans", "Liberation Sans", sans-serif' font-size="23.7" fill="#666666" stroke="#666666" stroke-width="0.4" text-anchor="middle">
<text x="152.9" y="422" textLength="97.6" lengthAdjust="spacingAndGlyphs">16:49:30</text>
<text x="318.6" y="422" textLength="97.6" lengthAdjust="spacingAndGlyphs">16:49:45</text>
<text x="484.4" y="422" textLength="97.6" lengthAdjust="spacingAndGlyphs">16:50:00</text>
<text x="650.1" y="422" textLength="97.6" lengthAdjust="spacingAndGlyphs">16:50:15</text>
</g>
<g class="ylabels" font-family='"DejaVu Sans Condensed", "DejaVu Sans", "Liberation Sans", sans-serif' font-size="23.7" fill="#666666" stroke="#666666" stroke-width="0.4" text-anchor="end">
<text x="40.5" y="188" textLength="27.8" lengthAdjust="spacingAndGlyphs">10</text>
<text x="40.5" y="290" textLength="13.9" lengthAdjust="spacingAndGlyphs">5</text>
<text x="40.5" y="392" textLength="13.9" lengthAdjust="spacingAndGlyphs">0</text>
</g>
<g class="legend" font-family='"DejaVu Sans Condensed", "DejaVu Sans", "Liberation Sans", sans-serif' font-size="24" font-weight="bold" fill="#333333">
<rect x="32" y="90" width="24" height="24" fill="#0a8cbe"/>
<text x="70.7" y="111.6" textLength="256.9" lengthAdjust="spacingAndGlyphs">Avg Completed Time</text>
<rect x="372.5" y="90" width="24" height="24" fill="#6cb8d6"/>
<text x="410.9" y="111.6" textLength="199.6" lengthAdjust="spacingAndGlyphs">Avg Active Time</text>
<rect x="32" y="118" width="24" height="24" fill="#ff2416"/>
<text x="70.7" y="139.6" textLength="186.5" lengthAdjust="spacingAndGlyphs">Avg Error Time</text>
</g>
</svg>
<div class="title" style="left:66px"><a style="letter-spacing:-0.13px">JDBC Time (ms)</a></div>
</div>

<div class="panel" style="left:1500px;top:482px;width:760px;height:500px">
<a class="btn" title="Settings"><svg width="20" height="20" viewBox="0 0 20 20"><path fill="#333" fill-rule="evenodd" d="M7.89 3.33 L8.18 0.47 L11.82 0.47 L12.11 3.33 L13.23 3.79 L15.45 1.98 L18.02 4.55 L16.21 6.77 L16.67 7.89 L19.53 8.18 L19.53 11.82 L16.67 12.11 L16.21 13.23 L18.02 15.45 L15.45 18.02 L13.23 16.21 L12.11 16.67 L11.82 19.53 L8.18 19.53 L7.89 16.67 L6.77 16.21 L4.55 18.02 L1.98 15.45 L3.79 13.23 L3.33 12.11 L0.47 11.82 L0.47 8.18 L3.33 7.89 L3.79 6.77 L1.98 4.55 L4.55 1.98 L6.77 3.79 Z M6.80 10.00 a3.20 3.20 0 1 0 6.40 0 a3.20 3.20 0 1 0 -6.40 0 Z"/></svg></a>
<svg class="chart" width="760" height="500" viewBox="0 0 760 500">
<defs><clipPath id="clipf"><rect x="84" y="0" width="638" height="384"/></clipPath></defs>
<g class="grid" stroke="#e6e6e6" stroke-width="2">
<path d="M84 149 H722"/>
<path d="M84 268.5 H722"/>
</g>
<g class="xaxis" stroke="#ccd6eb" stroke-width="2">
<path d="M84 385 H722"/>
<path d="M165 386 V404"/>
<path d="M327 386 V404"/>
<path d="M489 386 V404"/>
<path d="M651 386 V404"/>
</g>
<g class="series" clip-path="url(#clipf)" fill="none" stroke-width="4" stroke-linejoin="round" stroke-linecap="round">
<path d="M84 354.2 L94.8 360.6 L105.6 360.9 L116.4 356.8 L127.3 358.8 L138.1 360 L148.9 348.1 L159.7 360 L170.5 356.3 L181.3 356.3 L192.1 363 L202.9 354.5 L213.8 355.8 L224.6 351.3 L235.4 349.7 L246.2 349.2 L257 359.5 L267.8 356 L278.6 361.4 L289.5 348.9 L300.3 358.8 L311.1 356.6 L321.9 356.8 L332.7 362.7 L343.5 362.9 L354.3 350 L365.2 361.1 L376 367.5 L386.8 369.6 L397.6 367.5 L408.4 369.4 L419.2 357.4 L430 364.8 L440.8 347.3 L451.7 347.3 L462.5 355.3 L473.3 357.9 L484.1 355.8 L494.9 332.4 L505.7 351.5 L516.5 362.1 L527.4 359.5 L538.2 359.7 L549 359 L559.8 364.3 L570.6 354.9 L581.4 355.3 L592.2 354.7 L603.1 359.8 L613.9 364.8 L624.7 361.6 L635.5 365.6 L646.3 369.6 L657.1 362 L667.9 364.3 L678.7 359.8 L689.6 366.9 L700.4 368.7 L711.2 364.1 L722 370.1 L722 384 L84 384 Z" fill="#ffe483" fill-opacity="0.5" stroke="none"/>
<path d="M84 354.2 L94.8 360.6 L105.6 360.9 L116.4 356.8 L127.3 358.8 L138.1 360 L148.9 348.1 L159.7 360 L170.5 356.3 L181.3 356.3 L192.1 363 L202.9 354.5 L213.8 355.8 L224.6 351.3 L235.4 349.7 L246.2 349.2 L257 359.5 L267.8 356 L278.6 361.4 L289.5 348.9 L300.3 358.8 L311.1 356.6 L321.9 356.8 L332.7 362.7 L343.5 362.9 L354.3 350 L365.2 361.1 L376 367.5 L386.8 369.6 L397.6 367.5 L408.4 369.4 L419.2 357.4 L430 364.8 L440.8 347.3 L451.7 347.3 L462.5 355.3 L473.3 357.9 L484.1 355.8 L494.9 332.4 L505.7 351.5 L516.5 362.1 L527.4 359.5 L538.2 359.7 L549 359 L559.8 364.3 L570.6 354.9 L581.4 355.3 L592.2 354.7 L603.1 359.8 L613.9 364.8 L624.7 361.6 L635.5 365.6 L646.3 369.6 L657.1 362 L667.9 364.3 L678.7 359.8 L689.6 366.9 L700.4 368.7 L711.2 364.1 L722 370.1" stroke="#ffe483"/>
<path d="M84 382.3 L94.8 382.3 L105.6 381.8 L116.4 380.7 L127.3 377.6 L138.1 377 L148.9 367.5 L159.7 380.7 L170.5 381 L181.3 381.3 L192.1 382.3 L202.9 381.3 L213.8 380 L224.6 380.4 L235.4 379.7 L246.2 376 L257 380.7 L267.8 378.6 L278.6 380.7 L289.5 374.4 L300.3 377.6 L311.1 381.8 L321.9 381.5 L332.7 379.7 L343.5 381.8 L354.3 382 L365.2 382 L376 382 L386.8 382 L397.6 382 L408.4 381.6 L419.2 380.2 L430 381.8 L440.8 382 L451.7 381.5 L462.5 381.6 L473.3 381.3 L484.1 377.6 L494.9 357.4 L505.7 381.3 L516.5 382 L527.4 381.8 L538.2 382 L549 380.4 L559.8 382 L570.6 381.5 L581.4 382 L592.2 381.8 L603.1 379.7 L613.9 382 L624.7 381.8 L635.5 381.8 L646.3 382 L657.1 380 L667.9 381.8 L678.7 381.8 L689.6 381.5 L700.4 381.3 L711.2 375.4 L722 380.2 L722 384 L84 384 Z" fill="#ffcc33" fill-opacity="0.75" stroke="none"/>
<path d="M84 382.3 L94.8 382.3 L105.6 381.8 L116.4 380.7 L127.3 377.6 L138.1 377 L148.9 367.5 L159.7 380.7 L170.5 381 L181.3 381.3 L192.1 382.3 L202.9 381.3 L213.8 380 L224.6 380.4 L235.4 379.7 L246.2 376 L257 380.7 L267.8 378.6 L278.6 380.7 L289.5 374.4 L300.3 377.6 L311.1 381.8 L321.9 381.5 L332.7 379.7 L343.5 381.8 L354.3 382 L365.2 382 L376 382 L386.8 382 L397.6 382 L408.4 381.6 L419.2 380.2 L430 381.8 L440.8 382 L451.7 381.5 L462.5 381.6 L473.3 381.3 L484.1 377.6 L494.9 357.4 L505.7 381.3 L516.5 382 L527.4 381.8 L538.2 382 L549 380.4 L559.8 382 L570.6 381.5 L581.4 382 L592.2 381.8 L603.1 379.7 L613.9 382 L624.7 381.8 L635.5 381.8 L646.3 382 L657.1 380 L667.9 381.8 L678.7 381.8 L689.6 381.5 L700.4 381.3 L711.2 375.4 L722 380.2" stroke="#ffcc33"/>
</g>
<g class="xlabels" font-family='"DejaVu Sans Condensed", "DejaVu Sans", "Liberation Sans", sans-serif' font-size="23.7" fill="#666666" stroke="#666666" stroke-width="0.4" text-anchor="middle">
<text x="165.4" y="422" textLength="97.6" lengthAdjust="spacingAndGlyphs">16:49:30</text>
<text x="327.6" y="422" textLength="97.6" lengthAdjust="spacingAndGlyphs">16:49:45</text>
<text x="489.8" y="422" textLength="97.6" lengthAdjust="spacingAndGlyphs">16:50:00</text>
<text x="652" y="422" textLength="97.6" lengthAdjust="spacingAndGlyphs">16:50:15</text>
</g>
<g class="ylabels" font-family='"DejaVu Sans Condensed", "DejaVu Sans", "Liberation Sans", sans-serif' font-size="23.7" fill="#666666" stroke="#666666" stroke-width="0.4" text-anchor="end">
<text x="54.5" y="160" textLength="41.7" lengthAdjust="spacingAndGlyphs">100</text>
<text x="54.5" y="276" textLength="27.8" lengthAdjust="spacingAndGlyphs">50</text>
<text x="54.5" y="392" textLength="13.9" lengthAdjust="spacingAndGlyphs">0</text>
</g>
<g class="legend" font-family='"DejaVu Sans Condensed", "DejaVu Sans", "Liberation Sans", sans-serif' font-size="24" font-weight="bold" fill="#333333">
<rect x="32" y="90" width="24" height="24" fill="#ffe483"/>
<text x="69.7" y="111.6" textLength="88.3" lengthAdjust="spacingAndGlyphs">System</text>
<rect x="202" y="90" width="24" height="24" fill="#ffcc33"/>
<text x="239.4" y="111.6" textLength="105" lengthAdjust="spacingAndGlyphs">Instance</text>
</g>
</svg>
<div class="title" style="left:67px"><a>CPU (%)</a></div>
</div>

</body></html>
